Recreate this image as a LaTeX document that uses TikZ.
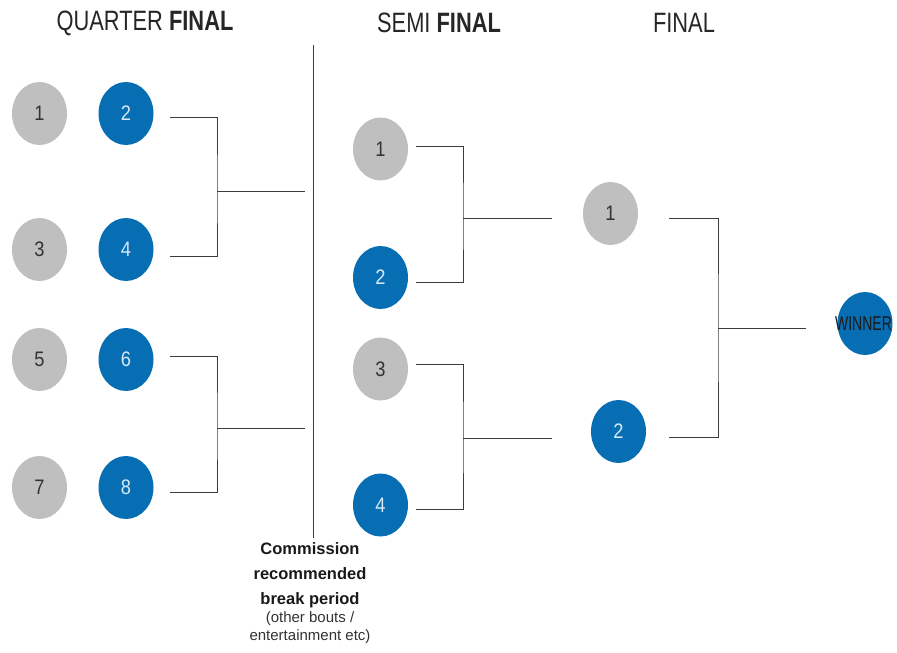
\documentclass[tikz,border=0pt]{standalone}
\usepackage{fontspec}
\setmainfont{Liberation Sans}
\newfontfamily\headfont{Liberation Sans}[FakeStretch=0.78]
\newfontfamily\seedfont{Liberation Sans}[FakeStretch=0.87]
\newfontfamily\winfont{Liberation Sans}[FakeStretch=0.7]
\usepackage{xcolor}
\usepackage{tikz}
\usetikzlibrary{shapes.geometric,positioning}

\definecolor{seedgrey}{RGB}{191,191,191}
\definecolor{seedblue}{RGB}{8,110,180}
\definecolor{seedtext}{RGB}{214,232,247}
\definecolor{linegrey}{RGB}{60,60,60}

\tikzset{
    seed/.style={ellipse, minimum width=55pt, minimum height=63pt, inner sep=0pt,
        font=\seedfont\fontsize{21}{21}\selectfont},
    greyseed/.style={seed, fill=seedgrey, text=black!80},
    blueseed/.style={seed, fill=seedblue, text=seedtext},
    link/.style={draw=linegrey, line width=1pt},
    roundtitle/.style={font=\headfont\fontsize{28}{28}\selectfont, text=black!85},
}

\begin{document}
\begin{tikzpicture}[x=1pt, y=-1pt]
    \useasboundingbox (0,0) rectangle (897,653);

    % Titles
    \node[roundtitle] (qtitle) at (145,23) {QUARTER \textbf{FINAL}};
    \node[roundtitle] (stitle) at (439,23) {SEMI \textbf{FINAL}};
    \node[roundtitle] (ftitle) at (684,23) {FINAL};

    % Quarter final
    \node[greyseed] (q1) at (39.5,113.5) {1};
    \node[blueseed] (q2) at (126,113.5) {2};
    \node[greyseed] (q3) at (39.5,249.5) {3};
    \node[blueseed] (q4) at (126,249.5) {4};
    \node[greyseed] (q5) at (39.5,359.5) {5};
    \node[blueseed] (q6) at (126,359.5) {6};
    \node[greyseed] (q7) at (39.5,487.5) {7};
    \node[blueseed] (q8) at (126,487.5) {8};

    \coordinate (qa1) at (170,117.5);
    \coordinate (qa2) at (170,256);
    \coordinate (qj1) at (217,191);
    \coordinate (qo1) at (305,191);
    \coordinate (qa3) at (170,356);
    \coordinate (qa4) at (170,492);
    \coordinate (qj2) at (217,428);
    \coordinate (qo2) at (305,428);
    \draw[link] (qa1) -| (qj1) |- (qa2);
    \draw[link] (qj1) -- (qo1);
    \draw[link] (qa3) -| (qj2) |- (qa4);
    \draw[link] (qj2) -- (qo2);

    % Break period
    \node[anchor=north, inner sep=0pt, align=center, text=black!90,
        font=\bfseries\fontsize{16.5}{25}\selectfont] (brk) at (310,542)
        {Commission\\recommended\\break period};
    \node[below=4pt of brk, inner sep=0pt, align=center, text=black!80,
        font=\fontsize{15}{18}\selectfont] (brknote)
        {(other bouts /\\entertainment etc)};
    \coordinate (divtop) at (313,45);
    \draw[link] (divtop) -- ([yshift=4pt]divtop |- brk.north);

    % Semi final
    \node[greyseed] (s1) at (380.5,149) {1};
    \node[blueseed] (s2) at (380.5,277.5) {2};
    \node[greyseed] (s3) at (380.5,369) {3};
    \node[blueseed] (s4) at (380.5,505) {4};

    \coordinate (sa1) at (416,146);
    \coordinate (sa2) at (416,282);
    \coordinate (sj1) at (463,218);
    \coordinate (so1) at (552,218);
    \coordinate (sa3) at (416,364);
    \coordinate (sa4) at (416,509);
    \coordinate (sj2) at (463,438);
    \coordinate (so2) at (552,438);
    \draw[link] (sa1) -| (sj1) |- (sa2);
    \draw[link] (sj1) -- (so1);
    \draw[link] (sa3) -| (sj2) |- (sa4);
    \draw[link] (sj2) -- (so2);

    % Final
    \node[greyseed] (f1) at (610.5,213.5) {1};
    \node[blueseed] (f2) at (618.5,431.5) {2};

    \coordinate (fa1) at (669,218);
    \coordinate (fa2) at (669,437);
    \coordinate (fj) at (718,328);
    \coordinate (fo) at (806,328);
    \draw[link] (fa1) -| (fj) |- (fa2);
    \draw[link] (fj) -- (fo);

    % Winner
    \node[blueseed] (win) at (865,323.5) {};
    \node[text=black!90, font=\winfont\fontsize{20}{20}\selectfont] (wintext) at ([xshift=-1.5pt]win.center) {WINNER};
\end{tikzpicture}
\end{document}
